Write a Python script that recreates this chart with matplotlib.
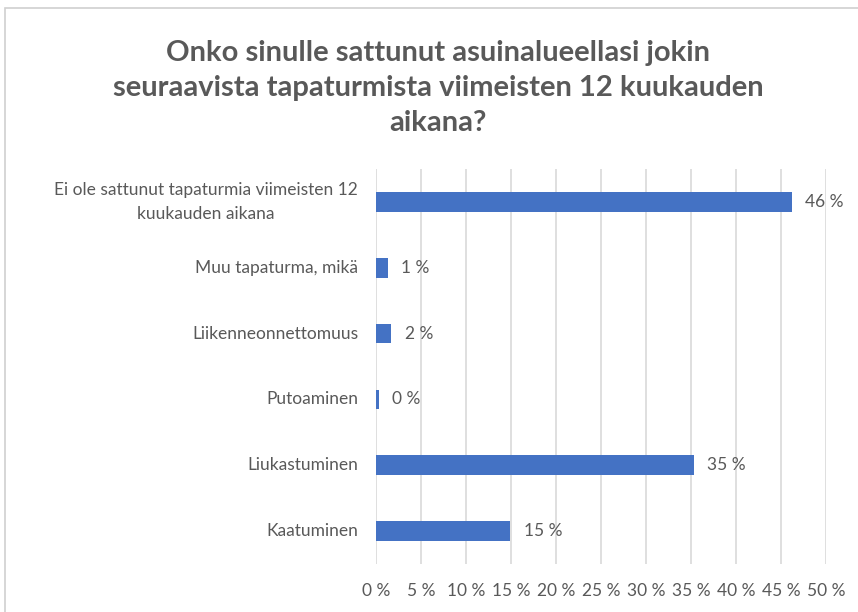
import matplotlib
matplotlib.use("Agg")
import matplotlib.pyplot as plt
import matplotlib.transforms as mtransforms
from matplotlib.patches import Rectangle

categories = ["Kaatuminen", "Liukastuminen", "Putoaminen", "Liikenneonnettomuus",
              "Muu tapaturma, mikä", "Ei ole sattunut tapaturmia viimeisten 12\nkuukauden aikana"]
values = [14.9, 35.3, 0.3, 1.7, 1.3, 46.2]
value_labels = ["15 %", "35 %", "0 %", "2 %", "1 %", "46 %"]
xticks = list(range(0, 55, 5))
xtick_labels = [f"{t} %" for t in xticks]
title = "Onko sinulle sattunut asuinalueellasi jokin\nseuraavista tapaturmista viimeisten 12 kuukauden\naikana?"

plt.rcParams['font.family'] = ['Lato', 'DejaVu Sans']
W, H = 858, 612
fig = plt.figure(figsize=(W/100, H/100), dpi=100)
fig.patches.append(Rectangle((5/W, -0.1), 1.2, 1 - 8/H + 0.1, transform=fig.transFigure,
                             fill=False, edgecolor="#d0d0d0", linewidth=1.2))

ax = fig.add_axes([376/W, 1 - 564/H, (826-376)/W, (564-169)/H])
y = list(range(len(categories)))
ax.barh(y, values, height=0.3, color="#4472C4", zorder=3)
for yi, v, lab in zip(y, values, value_labels):
    ax.text(v + 1.5, yi, lab, va="center", ha="left", fontsize=12.5, color="#595959")
ax.set_xlim(0, 50)
ax.set_ylim(-0.5, len(categories) - 0.5)
ax.set_xticks(xticks)
ax.set_xticklabels(xtick_labels, fontsize=12.5, color="#595959")
ax.set_yticks(y)
ax.set_yticklabels([])
trans = ax.get_yaxis_transform() + mtransforms.ScaledTranslation(-18/100, 0, fig.dpi_scale_trans)
for yi, cat in zip(y, categories):
    ax.text(0, yi, cat, transform=trans, ha="right", va="center", multialignment="center",
            fontsize=12.5, color="#595959", linespacing=1.6)
ax.tick_params(axis="y", length=0)
ax.tick_params(axis="x", length=0, pad=14)
ax.grid(axis="x", color="#d9d9d9", linewidth=1.2, zorder=0)
for s in ax.spines.values():
    s.set_visible(False)

fig.text(438/W, 1 - 88/H, title, ha="center", va="center", fontsize=21, fontweight="bold",
         color="#595959", linespacing=1.42)

fig.savefig("out.png", dpi=100, facecolor="white")
